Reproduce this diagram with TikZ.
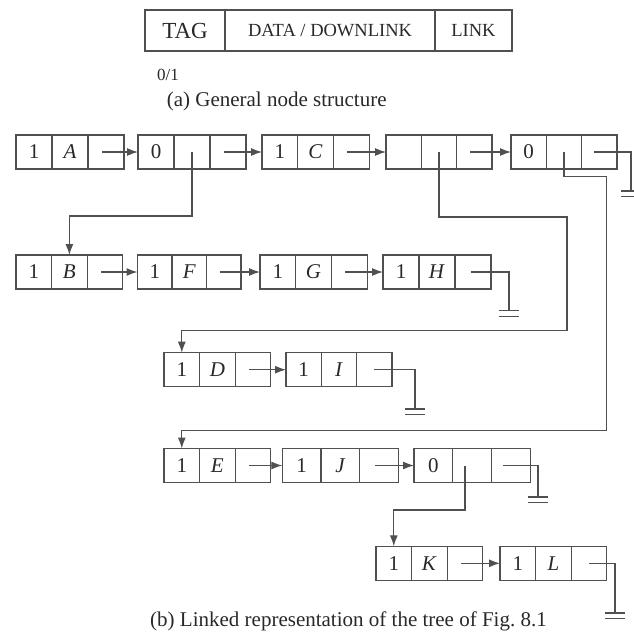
\documentclass[tikz,border=0pt]{standalone}
\usepackage{fontspec}
\setmainfont{Liberation Serif}
\usetikzlibrary{arrows.meta}
\definecolor{lc}{RGB}{80,80,80}
\definecolor{tc}{RGB}{40,40,40}
\tikzset{
  cell/.style={draw=lc, line width=1.2pt, minimum height=34pt, inner sep=0pt, outer sep=0pt, anchor=west, text=tc, font=\fontsize{21}{21}\selectfont},
  topcell/.style={draw=lc, line width=1.2pt, minimum height=41pt, inner sep=0pt, outer sep=0pt, anchor=west, text=tc},
  ln/.style={draw=lc, line width=1.2pt},
  arr/.style={ln, -{Latex[length=11pt,width=8pt]}},
  captext/.style={text=tc, anchor=base, font=\fontsize{21}{21}\selectfont, inner sep=0pt}
}
% name, x left, y center, cell width, tag, data
\newcommand\lnode[6]{%
  \node[cell, minimum width=#4pt] (#1-t) at (#2,#3) {#5};
  \node[cell, minimum width=#4pt] (#1-d) at (#1-t.east) {#6};
  \node[cell, minimum width=#4pt] (#1-l) at (#1-d.east) {};
}
\newcommand\gnd[1]{%
  \draw[ln] ([xshift=-10pt]#1) -- ([xshift=10pt]#1)
            ([xshift=-10pt,yshift=-5.5pt]#1) -- ([xshift=10pt,yshift=-5.5pt]#1);
}
\begin{document}
\begin{tikzpicture}[x=1pt,y=-1pt]
\useasboundingbox (0,0) rectangle (633,635);
% (a) general node structure
\node[topcell, minimum width=80pt, font=\fontsize{23}{23}\selectfont] (tg) at (145,30.5) {TAG};
\node[topcell, minimum width=210pt, font=\fontsize{18.5}{18.5}\selectfont] (dt) at (tg.east) {DATA / DOWNLINK};
\node[topcell, minimum width=77pt, font=\fontsize{18.5}{18.5}\selectfont] (lk) at (dt.east) {LINK};
\node[captext, font=\fontsize{17}{17}\selectfont] (tf) at (168,80) {0/1};
\node[captext] (capa) at (276.7,106) {(a) General node structure};

% row 1
\lnode{a}{16}{152}{36}{1}{\textit{A}}
\lnode{z}{138}{152}{36}{0}{}
\lnode{c}{262}{152}{35.7}{1}{\textit{C}}
\lnode{p}{386}{152}{35.3}{}{}
\lnode{q}{511}{152}{35.3}{0}{}
% row 2
\lnode{b}{16}{272}{35.6}{1}{\textit{B}}
\lnode{f}{137.5}{272}{34.5}{1}{\textit{F}}
\lnode{g}{260}{272}{35.7}{1}{\textit{G}}
\lnode{h}{383}{272}{36}{1}{\textit{H}}
% row 3
\lnode{d}{164}{369.7}{35.6}{1}{\textit{D}}
\lnode{i}{286}{369.7}{35.3}{1}{\textit{I}}
% row 4
\lnode{e}{164}{465.5}{35.6}{1}{\textit{E}}
\lnode{j}{282.3}{465.5}{38.7}{1}{\textit{J}}
\lnode{m}{414}{465.5}{38.7}{0}{}
% row 5
\lnode{k}{376}{563.3}{35.6}{1}{\textit{K}}
\lnode{l}{500}{563.3}{35.6}{1}{\textit{L}}

% horizontal links
\foreach \s/\t in {a/z, z/c, c/p, p/q, b/f, f/g, g/h, d/i, e/j, j/m, k/l}
  \draw[arr] ([xshift=-4pt]\s-l.center) -- (\t-t.west);

% null links
\coordinate (gq) at (631,191);
\coordinate (gh) at (509,310.7);
\coordinate (gi) at (415,409);
\coordinate (gm) at (538,497);
\coordinate (gl) at (615,613);
\draw[ln] ([xshift=-5pt]q-l.center) -| (gq); \gnd{gq}
\draw[ln] ([xshift=-2pt]h-l.center) -| (gh); \gnd{gh}
\draw[ln] (i-l.center) -| (gi); \gnd{gi}
\draw[ln] ([xshift=-8pt]m-l.center) -| (gm); \gnd{gm}
\draw[ln] (l-l.center) -| (gl); \gnd{gl}

% downlinks
\draw[arr] (z-d.center) -- ++(0,64) -| (b-d.north);
\draw[arr] (p-d.center) |- (567,217) -- (567,330.7) -| (d-t.north);
\draw[arr] (q-d.center) |- (606.7,176.7) -- (606.7,430.7) -| (e-t.north);
\draw[arr] ([xshift=-7pt]m-d.center) -- ++(0,44.5) -| (k-t.north);

\node[captext] (capb) at (348.5,626) {(b) Linked representation of the tree of Fig.~8.1};
\end{tikzpicture}
\end{document}
